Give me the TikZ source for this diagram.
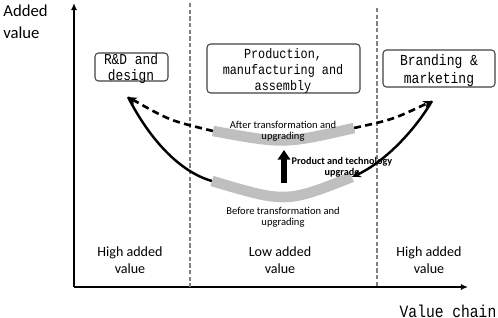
\documentclass[tikz,border=0pt]{standalone}
\usepackage{fontspec}
\setmainfont{Carlito}
\newfontfamily\monofont[FakeStretch=0.85]{Liberation Mono}
\usetikzlibrary{arrows.meta}

\begin{document}
\begin{tikzpicture}[x=0.02cm, y=-0.02cm,
        axis/.style={line width=1pt, -{Latex[length=4pt,width=3.5pt]}},
        divider/.style={color=black!50, line width=0.9pt, dash pattern=on 2.5pt off 1.3pt},
        stage/.style={draw=black!75, line width=0.6pt, rounded corners=2pt, inner sep=0pt},
        stagetext/.style={font=\monofont\fontsize{8.6}{8.8}\selectfont, align=center, inner sep=0pt},
        band/.style={line width=6pt, color=black!25},
        afterline/.style={line width=1.5pt, dash pattern=on 4pt off 2.5pt, -{Stealth[length=5pt,width=4.5pt]}},
        beforeline/.style={line width=1.4pt},
        tinylabel/.style={font=\fontsize{6}{6.5}\selectfont, align=center, inner sep=0pt},
        valuetext/.style={font=\fontsize{8}{9.5}\selectfont, align=center, inner sep=0pt}]
        \useasboundingbox (0,0) rectangle (498,318);
        %axes
            \coordinate (origin) at (74,287);
            \coordinate (ytip) at (74,3);
            \coordinate (xtip) at (468,287);
            \draw [axis] (origin) -- (ytip);
            \draw [axis] (origin) -- (xtip);
            \node[anchor=north west, align=left, inner sep=0pt, font=\fontsize{9.5}{12.5}\selectfont] (yname) at (3,5) {Added\\value};
            \node[inner sep=0pt, font=\monofont\fontsize{9.8}{10}\selectfont] (xname) at (448,311) {Value chain};
        % dividers
            \draw [divider] (190,3) -- (190,287);
            \draw [divider] (377,8) -- (377,287);
        % stages
            \node[stage, minimum width=1.46cm, minimum height=0.56cm] (rdbox) at (131.5,67) {};
                \node[stagetext] (rdtext) at (131,68.5) {R\&D and\\design};
            \node[stage, minimum width=3.06cm, minimum height=0.98cm] (prodbox) at (283.5,68.5) {};
                \node[stagetext, font=\monofont\fontsize{7.9}{9.2}\selectfont] (prodtext) at (283,71) {Production,\\manufacturing and\\assembly};
            \node[stage, minimum width=2.24cm, minimum height=0.74cm] (brandbox) at (439,68.5) {};
                \node[stagetext, font=\monofont\fontsize{8.7}{10.2}\selectfont] (brandtext) at (439,71) {Branding \&\\marketing};
        % curves
            \coordinate (rd) at (128,97);
            \coordinate (mk) at (432,101);
            \coordinate (afterL) at (213,131);
            \coordinate (afterR) at (354,128);
            \coordinate (beforeL) at (212,181);
            \coordinate (beforeR) at (352,177);
            \draw [afterline] (afterL) .. controls (169.5,120.5) .. (rd);
            \draw [afterline] (afterR) .. controls (393,119.5) .. (mk);
            \draw [beforeline] (rd) .. controls (150,140) and (180,172) .. (beforeL);
            \draw [band] (afterL) .. controls (284.5,144) .. (afterR);
            \draw [band] (beforeL) .. controls (286,203) .. (beforeR);
            \draw [beforeline, -{Stealth[length=5pt,width=4.5pt]}] (mk) .. controls (415,130) and (385,162) .. (beforeR);
        % upgrade
            \coordinate (upfrom) at (284,183);
            \coordinate (upto) at (284,150);
            \draw [line width=3.2pt, -{Triangle[length=5.5pt,width=7pt]}] (upfrom) -- (upto);
        %nodes
            \node[tinylabel] (aftertext) at (283,131) {After transformation and\\upgrading};
            \node[tinylabel] (beforetext) at (283,217) {Before transformation and\\upgrading};
            \node[tinylabel, font=\bfseries\fontsize{5.8}{6.5}\selectfont] (upgradetext) at (342,167) {Product and technology\\upgrade};
            \node[valuetext] (rdvalue) at (130,260) {High added\\value};
            \node[valuetext] (prodvalue) at (280,260) {Low added\\value};
            \node[valuetext] (brandvalue) at (429,260) {High added\\value};
    \end{tikzpicture}
\end{document}
